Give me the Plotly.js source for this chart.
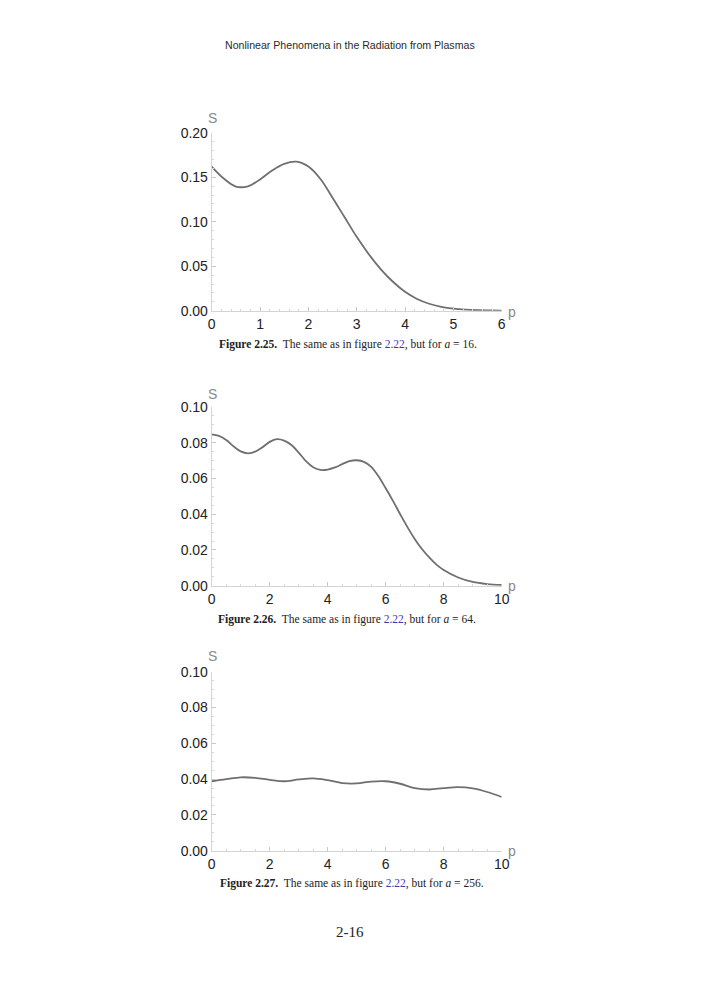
<!DOCTYPE html>
<html>
<head>
<meta charset="utf-8">
<script src="https://cdn.plot.ly/plotly-3.0.1.min.js"></script>
<style>html,body{margin:0;padding:0;background:#fff;}#chart{width:701px;height:1000px;}</style>
</head>
<body>
<div id="chart"></div>
<script>
// ---- Data ----
const p1 = [0, 0.25, 0.5, 0.75, 1.0, 1.25, 1.5, 1.75, 2.0, 2.25, 2.5, 2.75, 3.0, 3.25, 3.5, 3.75, 4.0, 4.25, 4.5, 4.75, 5.0, 5.25, 5.5, 5.75, 6.0];
const s1 = [0.162, 0.1485, 0.1395, 0.1398, 0.1475, 0.1575, 0.165, 0.1675, 0.162, 0.148, 0.127, 0.105, 0.083, 0.0635, 0.0465, 0.0325, 0.0212, 0.0132, 0.0078, 0.0044, 0.0023, 0.0012, 0.0006, 0.0003, 0.0001];

const p2 = [0, 0.25, 0.5, 0.75, 1.0, 1.25, 1.5, 1.75, 2.0, 2.25, 2.5, 2.75, 3.0, 3.25, 3.5, 3.75, 4.0, 4.25, 4.5, 4.75, 5.0, 5.25, 5.5, 5.75, 6.0, 6.25, 6.5, 6.75, 7.0, 7.25, 7.5, 7.75, 8.0, 8.5, 9.0, 9.5, 10];
const s2 = [0.0847, 0.0838, 0.0815, 0.0780, 0.0752, 0.0741, 0.0750, 0.0775, 0.0805, 0.0820, 0.0812, 0.0787, 0.0745, 0.0697, 0.0663, 0.0648, 0.0650, 0.0662, 0.0680, 0.0697, 0.0702, 0.0693, 0.0665, 0.0612, 0.0545, 0.0475, 0.0400, 0.0328, 0.0262, 0.0205, 0.0158, 0.0118, 0.0088, 0.0046, 0.0021, 0.0009, 0.0004];

const p3 = [0, 0.5, 1.0, 1.5, 2.0, 2.5, 3.0, 3.5, 4.0, 4.5, 5.0, 5.5, 6.0, 6.5, 7.0, 7.5, 8.0, 8.5, 9.0, 9.5, 10];
const s3 = [0.0388, 0.0400, 0.0410, 0.0407, 0.0396, 0.0388, 0.0398, 0.0404, 0.0394, 0.0378, 0.0376, 0.0386, 0.0388, 0.0374, 0.0350, 0.0342, 0.0350, 0.0355, 0.0348, 0.0328, 0.0300];

const xTicks1 = [0, 1, 2, 3, 4, 5, 6];
const xTicks23 = [0, 2, 4, 6, 8, 10];
const yTicks1 = [0, 0.05, 0.10, 0.15, 0.20];
const yTicks23 = [0, 0.02, 0.04, 0.06, 0.08, 0.10];

const header = "Nonlinear Phenomena in the Radiation from Plasmas";
const captions = [
  "<b>Figure 2.25.</b>  The same as in figure <span style='color:#3c3cb4'>2.22</span>, but for <i>a</i> = 16.",
  "<b>Figure 2.26.</b>  The same as in figure <span style='color:#3c3cb4'>2.22</span>, but for <i>a</i> = 64.",
  "<b>Figure 2.27.</b>  The same as in figure <span style='color:#3c3cb4'>2.22</span>, but for <i>a</i> = 256."
];
const pageNumber = "2-16";

// ---- Layout helpers (pixel -> paper) ----
const W = 701, H = 1000;
const px = v => v / W;
const py = v => 1 - v / H;

const lineStyle = {color: '#6f6f6f', width: 1.8, shape: 'spline', smoothing: 1};
const traces = [
  {x: p1, y: s1, xaxis: 'x', yaxis: 'y', mode: 'lines', line: lineStyle, hoverinfo: 'skip'},
  {x: p2, y: s2, xaxis: 'x2', yaxis: 'y2', mode: 'lines', line: lineStyle, hoverinfo: 'skip'},
  {x: p3, y: s3, xaxis: 'x3', yaxis: 'y3', mode: 'lines', line: lineStyle, hoverinfo: 'skip'}
];

const tickFont = {family: 'Liberation Sans, Arial, sans-serif', size: 14, color: '#222'};
function xAxis(range, ticks, minor, anchor, dom) {
  return {
    domain: dom, anchor: anchor, range: range, tickvals: ticks,
    ticktext: ticks.map(String),
    showline: true, linecolor: '#d4d4d4', linewidth: 1,
    ticks: 'inside', ticklen: 4, tickcolor: '#c8c8c8', tickwidth: 1,
    minor: {dtick: minor, tick0: 0, ticks: 'inside', ticklen: 2, tickcolor: '#d8d8d8', showgrid: false},
    showgrid: false, zeroline: false, tickfont: tickFont, fixedrange: true
  };
}
function yAxis(range, ticks, minor, anchor, dom) {
  return {
    domain: dom, anchor: anchor, range: range, tickvals: ticks,
    ticktext: ticks.map(v => v.toFixed(2)),
    showline: true, linecolor: '#d4d4d4', linewidth: 1,
    ticks: 'inside', ticklen: 4, tickcolor: '#c8c8c8', tickwidth: 1,
    minor: {dtick: minor, tick0: 0, ticks: 'inside', ticklen: 2, tickcolor: '#d8d8d8', showgrid: false},
    showgrid: false, zeroline: false, tickfont: tickFont, fixedrange: true
  };
}

const xDom = [px(211.7), px(501.7)];
const layout = {
  width: W, height: H,
  margin: {l: 0, r: 0, t: 0, b: 0},
  paper_bgcolor: '#fff', plot_bgcolor: 'rgba(0,0,0,0)',
  showlegend: false,
  xaxis: xAxis([0, 6], xTicks1, 0.2, 'y', xDom),
  yaxis: yAxis([0, 0.2], yTicks1, 0.01, 'x', [py(310.7), py(132.7)]),
  xaxis2: xAxis([0, 10], xTicks23, 0.5, 'y2', xDom),
  yaxis2: yAxis([0, 0.1], yTicks23, 0.005, 'x2', [py(585.7), py(407)]),
  xaxis3: xAxis([0, 10], xTicks23, 0.5, 'y3', xDom),
  yaxis3: yAxis([0, 0.1], yTicks23, 0.005, 'x3', [py(850.7), py(671.7)]),
  annotations: []
};

const ann = layout.annotations;
function addText(text, x, y, font, xanchor) {
  ann.push({text: text, xref: 'paper', yref: 'paper', x: px(x), y: py(y),
    xanchor: xanchor || 'center', yanchor: 'middle', showarrow: false, font: font});
}
const headFont = {family: 'Liberation Sans, Arial, sans-serif', size: 10.6, color: '#2a2a2a'};
const capFont = {family: 'Liberation Serif, Times New Roman, serif', size: 11.5, color: '#222'};
const labFont = {family: 'Liberation Sans, Arial, sans-serif', size: 14, color: '#8a8a8a'};

addText(header, 350, 45, headFont);
addText(captions[0], 348, 344, capFont);
addText(captions[1], 347, 619, capFont);
addText(captions[2], 352, 883, capFont);
addText(pageNumber, 350, 932, {family: 'Liberation Serif, Times New Roman, serif', size: 15, color: '#222'});

// axis labels S and p
addText('S', 212, 118, labFont);
addText('p', 506, 312, labFont, 'left');
addText('S', 212, 394, labFont);
addText('p', 506, 586, labFont, 'left');
addText('S', 212, 656, labFont);
addText('p', 506, 851, labFont, 'left');

Plotly.newPlot('chart', traces, layout, {displayModeBar: false, staticPlot: true});
</script>
</body>
</html>
